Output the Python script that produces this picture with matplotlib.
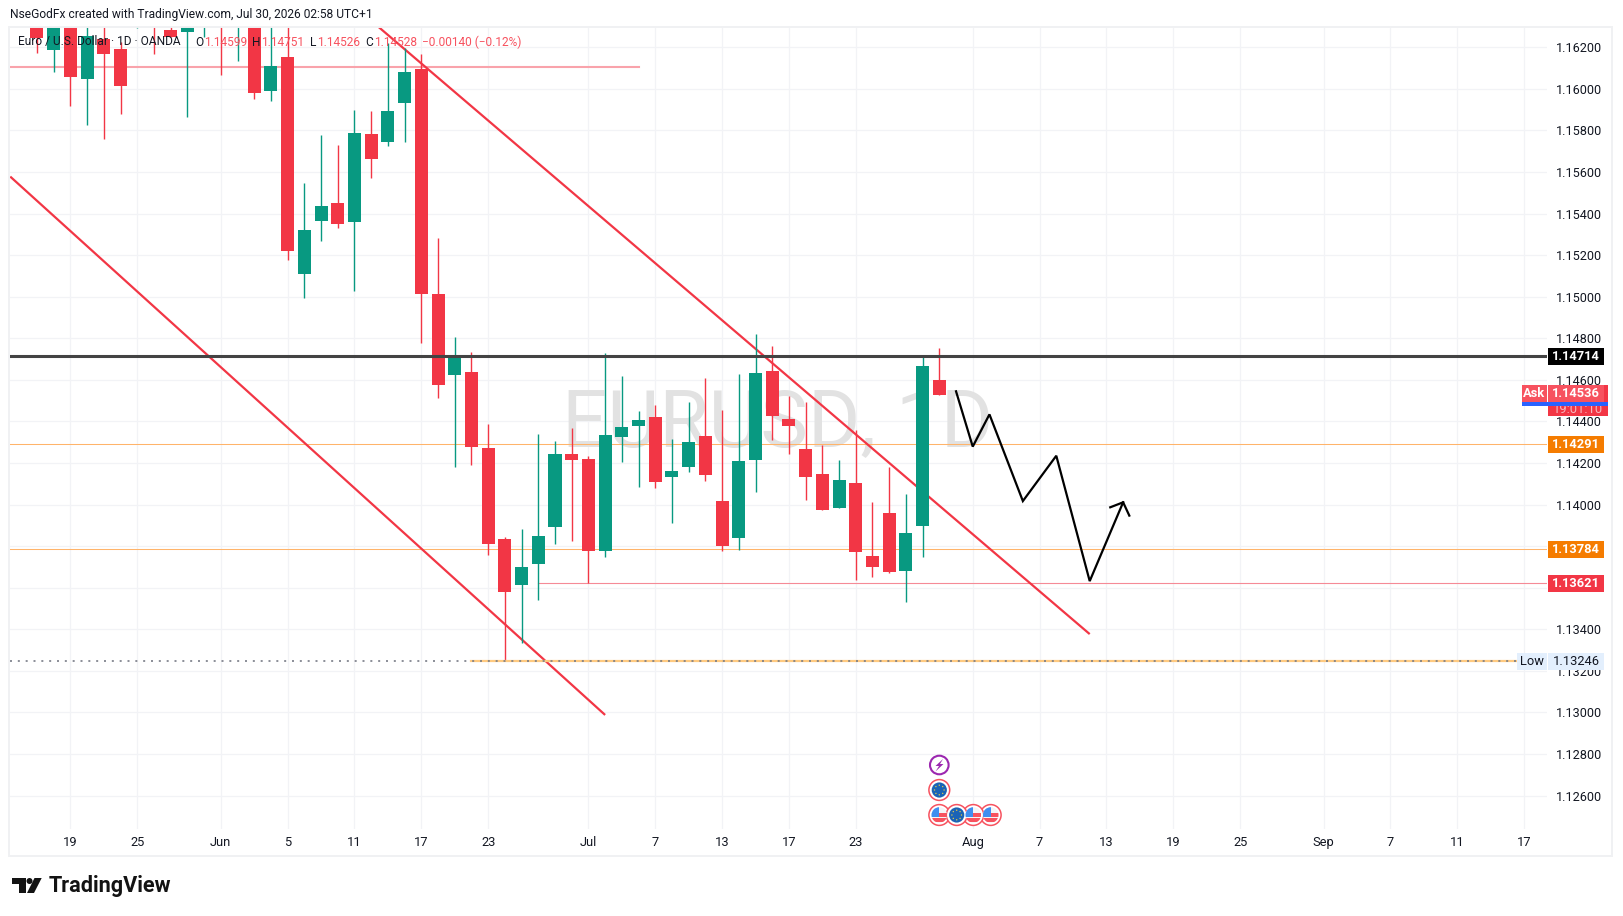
import numpy as np
import pandas as pd
import matplotlib
matplotlib.use("Agg")
import matplotlib.pyplot as plt
from matplotlib.patches import Circle, Rectangle, Polygon
from matplotlib.transforms import IdentityTransform, blended_transform_factory

W, H = 1623, 916

# daily candles, May 15 to Jul 30 2026 (the first ones run off the top of the pane)
opens = [1.16350, 1.16187, 1.16350, 1.16049, 1.16238, 1.16190, 1.16400, 1.16450, 1.16283, 1.16275, 1.16400,
         1.16500, 1.16296, 1.16400, 1.15991, 1.16153, 1.15111, 1.15366, 1.15451, 1.15361, 1.15783,
         1.15746, 1.15934, 1.16096, 1.15013, 1.14625, 1.14638, 1.14272, 1.13835, 1.13615, 1.13716,
         1.13894, 1.14243, 1.14219, 1.13778, 1.14325, 1.14380, 1.14421, 1.14134, 1.14182, 1.14330,
         1.14017, 1.13841, 1.14216, 1.14643, 1.14412, 1.14267, 1.14147, 1.13985, 1.14104, 1.13753,
         1.13959, 1.13682, 1.13899, 1.14599]
highs = [1.16420, 1.16450, 1.16420, 1.16320, 1.16320, 1.16227, 1.16500, 1.16500, 1.16320, 1.16450, 1.16550,
         1.16550, 1.16450, 1.16450, 1.16320, 1.16320, 1.15547, 1.15778, 1.15730, 1.15898, 1.15894,
         1.16219, 1.16195, 1.16168, 1.15283, 1.14806, 1.14733, 1.14388, 1.13844, 1.13883, 1.14340,
         1.14306, 1.14370, 1.14234, 1.14729, 1.14619, 1.14450, 1.14479, 1.14316, 1.14494, 1.14609,
         1.14455, 1.14628, 1.14821, 1.14763, 1.14522, 1.14494, 1.14287, 1.14214, 1.14359, 1.14012,
         1.14181, 1.14051, 1.14708, 1.14751]
lows = [1.16171, 1.16083, 1.15919, 1.15828, 1.15760, 1.15881, 1.16293, 1.16166, 1.16248, 1.15863, 1.16251,
        1.16068, 1.16136, 1.15950, 1.15943, 1.15178, 1.14995, 1.15270, 1.15332, 1.15029, 1.15573,
        1.15727, 1.15746, 1.14779, 1.14514, 1.14182, 1.14192, 1.13759, 1.13249, 1.13336, 1.13543,
        1.13812, 1.13826, 1.13621, 1.13749, 1.14206, 1.14086, 1.14081, 1.13913, 1.14158, 1.14115,
        1.13778, 1.13781, 1.14062, 1.14311, 1.14245, 1.14024, 1.13975, 1.13985, 1.13639, 1.13653,
        1.13672, 1.13533, 1.13749, 1.14526]
closes = [1.16246, 1.16380, 1.16059, 1.16254, 1.16169, 1.16015, 1.16450, 1.16320, 1.16251, 1.16400, 1.16500,
          1.16320, 1.16400, 1.15982, 1.16110, 1.15222, 1.15321, 1.15437, 1.15352, 1.15788, 1.15664,
          1.15894, 1.16081, 1.15015, 1.14577, 1.14710, 1.14279, 1.13812, 1.13581, 1.13700, 1.13849,
          1.14243, 1.14216, 1.13778, 1.14335, 1.14373, 1.14407, 1.14110, 1.14162, 1.14301, 1.14144,
          1.13802, 1.14210, 1.14633, 1.14428, 1.14380, 1.14134, 1.13975, 1.14118, 1.13774, 1.13701,
          1.13677, 1.13863, 1.14667, 1.14528]

price_ticks = [1.162, 1.160, 1.158, 1.156, 1.154, 1.152, 1.150, 1.148, 1.146, 1.144,
               1.142, 1.140, 1.138, 1.136, 1.134, 1.132, 1.130, 1.128, 1.126]
# 1.138 and 1.136 sit fully under the price tags
hidden_ticks = [1.138, 1.136]
tick_dates = ["2026-05-19", "2026-05-25", "2026-06-01", "2026-06-05", "2026-06-11", "2026-06-17", "2026-06-23",
              "2026-07-01", "2026-07-07", "2026-07-13", "2026-07-17", "2026-07-23", "2026-08-03", "2026-08-07",
              "2026-08-13", "2026-08-19", "2026-08-25", "2026-09-01", "2026-09-07", "2026-09-11", "2026-09-17"]
tick_labels = ["19", "25", "Jun", "5", "11", "17", "23", "Jul", "7", "13", "17", "23", "Aug", "7",
               "13", "19", "25", "Sep", "7", "11", "17"]

# drawings, x in bars from May 15, y in price
upper_x, upper_y = [20.44, 63.0], [1.16298, 1.13377]
lower_x, lower_y = [-1.6, 34.0], [1.15578, 1.12988]
path_x = [55, 56, 57, 59, 61, 63, 65]
path_y = [1.14545, 1.14279, 1.14434, 1.14017, 1.14235, 1.13632, 1.14011]
head_x = [64.23, 65, 65.37]
head_y = [1.13987, 1.14011, 1.13947]

level_black = 1.14714
level_top = 1.16107
level_orange = [1.14291, 1.13784]
level_red = 1.13621
level_low = 1.13246
last_ask = 1.14536

UP = "#089981"
DOWN = "#F23645"
INK = "#131722"
GRID = "#F2F3F6"
FONT = ["Roboto", "DejaVu Sans"]
plt.rcParams["font.family"] = FONT

dates = pd.bdate_range("2026-05-15", "2026-09-30")
xs = np.arange(len(closes))
opens, highs, lows, closes = map(np.array, (opens, highs, lows, closes))

fig = plt.figure(figsize=(W / 100, H / 100), dpi=100, facecolor="white")
pane_l, pane_r, pane_t, pane_b = 10, 1547, 27, 829
ax = fig.add_axes([pane_l / W, 1 - pane_b / H, (pane_r - pane_l) / W, (pane_b - pane_t) / H])


def px_y(y):
    return H - y


# frame round the whole chart
fig.add_artist(Rectangle((pane_l - 1, px_y(856)), 1612 - pane_l + 1, 856 - pane_t,
                         transform=IdentityTransform(), fill=False, ec="#F0F1F3", lw=1.4))

bar_step = 16.71
first_bar_px = 36.98
ax.set_xlim((pane_l - first_bar_px) / bar_step, (pane_r - first_bar_px) / bar_step)
ax.set_ylim(1.164276 - pane_b * 4.811e-5, 1.164276 - pane_t * 4.811e-5)
for s in ax.spines.values():
    s.set_visible(False)

tick_pos = [dates.get_loc(pd.Timestamp(d)) for d in tick_dates]
ax.set_xticks(tick_pos, tick_labels)
ax.set_yticks(price_ticks, ["" if p in hidden_ticks else "%.5f" % p for p in price_ticks])
ax.yaxis.tick_right()
ax.tick_params(axis="y", length=0, pad=6.6, labelsize=9.05, labelcolor=INK)
ax.tick_params(axis="x", length=0, pad=5.0, labelsize=9.3, labelcolor=INK)
ax.grid(True, color=GRID, lw=0.9)
ax.set_axisbelow(True)

# watermark
ax.text(0.4995, 0.5045, "EURUSD, 1D", transform=ax.transAxes, ha="center", va="center",
        fontsize=57.5, color="#E2E2E2", zorder=0.8)

# lines drawn behind the candles
ax.plot(upper_x, upper_y, color=DOWN, lw=1.6, zorder=1.5, solid_capstyle="butt")
ax.plot(lower_x, lower_y, color=DOWN, lw=1.6, zorder=1.5, solid_capstyle="butt")
ax.plot([-1.62, 36.0], [level_top] * 2, color="#F9A3AB", lw=1.5, zorder=1.4)
for lev in level_orange:
    ax.axhline(lev, color="#FFB46A", lw=0.75, zorder=1.4)
ax.plot([dates.get_loc(pd.Timestamp("2026-06-26")), 90.4], [level_red] * 2, color="#F58A96", lw=0.8, zorder=1.4)

# candles
colors = np.where(closes >= opens, UP, DOWN)
ax.vlines(xs, lows, highs, colors=colors, lw=1.0, zorder=2)
ax.bar(xs, np.abs(closes - opens), bottom=np.minimum(opens, closes), width=0.78, color=colors, lw=0, zorder=2.1)

# lines over the candles
ax.axhline(level_black, color="#434343", lw=2.2, zorder=3)
ax.plot(path_x, path_y, color="black", lw=1.6, zorder=3.2, solid_joinstyle="miter")
ax.plot(head_x, head_y, color="black", lw=1.6, zorder=3.2, solid_joinstyle="miter")
low_start = dates.get_loc(pd.Timestamp("2026-06-22"))
ax.plot([low_start, 88.6], [level_low] * 2, color="#FFCA80", lw=1.6, zorder=3)
ax.plot([-1.62, 88.6], [level_low] * 2, color="#787B86", lw=1.2, ls=(0, (1.2, 3.5)), zorder=3.1)

price_tf = blended_transform_factory(IdentityTransform(), ax.transData)
tag_h = 17.2 * 4.811e-5


def tag(x0, x1, price, text, bg, fg="white", weight="bold", z=6):
    ax.add_patch(Rectangle((x0, price - tag_h / 2), x1 - x0, tag_h, transform=price_tf, fc=bg, ec="none",
                           clip_on=False, zorder=z))
    ax.text((x0 + x1) / 2, price - 0.00001, text, transform=price_tf, ha="center", va="center", fontsize=9.3,
            color=fg, fontweight=weight, clip_on=False, zorder=z + 0.1)


# countdown box sits under the ask tag
box_h = 31 * 4.811e-5
ax.add_patch(Rectangle((1548, last_ask - 8.6 * 4.811e-5 - box_h + 17.2 * 4.811e-5), 60, box_h, transform=price_tf,
                       fc=DOWN, ec="none", clip_on=False, zorder=5))
ax.text(1578, last_ask - 16 * 4.811e-5, "19:01:10", transform=price_tf, ha="center", va="center", fontsize=9.3,
        color="#F7B8BE", clip_on=False, zorder=5.1)
ax.add_patch(Rectangle((1522, last_ask - 12.4 * 4.811e-5), 86, 4 * 4.811e-5, transform=price_tf, fc="#2962FF",
                       ec="none", clip_on=False, zorder=5.2))
tag(1522, 1547, last_ask, "Ask", "#F7525F", z=6)
tag(1548, 1604, last_ask, "%.5f" % last_ask, "#F7525F", z=6)
tag(1548, 1604, level_black, "%.5f" % level_black, "black")
tag(1548, 1604, level_orange[0], "%.5f" % level_orange[0], "#F57C00")
tag(1548, 1604, level_orange[1], "%.5f" % level_orange[1], "#F57C00")
tag(1548, 1604, level_red, "%.5f" % level_red, DOWN)
tag(1517, 1547, level_low, "Low", "#E3EFFD", fg=INK, weight="normal")
tag(1548, 1604, level_low, "%.5f" % level_low, "#E3EFFD", fg=INK, weight="normal")


def px_text(x, y, s, color=INK, size=9.2, weight="normal", ha="left"):
    fig.text(x / W, 1 - y / H, s, color=color, fontsize=size, fontweight=weight, ha=ha, va="center")


# header and legend
px_text(10, 14.7, "NseGodFx created with TradingView.com, Jul 30, 2026 02:58 UTC+1", size=8.65)
px_text(18, 42, "Euro / U.S. Dollar · 1D · OANDA", size=8.55)
RED_TXT = "#F7525F"
for x, s, c in [(195, "O", INK), (203.6, "1.14599", RED_TXT), (252.5, "H", INK), (261, "1.14751", RED_TXT),
                (310, "L", INK), (317, "1.14526", RED_TXT), (365, "C", INK), (373.6, "1.14528", RED_TXT),
                (422, "−0.00140 (−0.12%)", RED_TXT)]:
    px_text(x, 42, s, color=c, size=8.6)


def event_circle(x, y, ring, fill):
    c = Circle((x, px_y(y)), 9.3, transform=IdentityTransform(), fc=fill, ec=ring, lw=1.5, zorder=5)
    fig.add_artist(c)
    return c


def eu_icon(x, y):
    fig.add_artist(Circle((x, px_y(y)), 10.4, transform=IdentityTransform(), fc="white", ec="#F7525F", lw=1.1, zorder=5))
    fig.add_artist(Circle((x, px_y(y)), 7.6, transform=IdentityTransform(), fc="#1B63B5", ec="none", zorder=5.1))
    for a in np.arange(0, 360, 45):
        fig.add_artist(Circle((x + 4.8 * np.cos(np.radians(a)), px_y(y) + 4.8 * np.sin(np.radians(a))), 0.7,
                              transform=IdentityTransform(), fc="#E3C94B", ec="none", zorder=5.2))


def us_icon(x, y):
    fig.add_artist(Circle((x, px_y(y)), 10.4, transform=IdentityTransform(), fc="white", ec="#F7525F", lw=1.1, zorder=5))
    clip = Circle((x, px_y(y)), 7.8, transform=IdentityTransform())
    parts = [(x - 8, y - 8, 16, 16, "#F4F4F6"), (x - 8, y + 3, 16, 4, "#F7525F"), (x, y - 2, 8, 4, "#F7525F"),
             (x - 8, y - 8, 8, 10, "#3F8EF0")]
    for x0, y0, w, h, col in parts:
        r = Rectangle((x0, px_y(y0 + h)), w, h, transform=IdentityTransform(), fc=col, ec="none", zorder=5.1)
        fig.add_artist(r)
        r.set_clip_path(clip)


# calendar events under the last candle
event_circle(939.3, 765, "#9C27B0", "white")
bolt = [(943, 759), (935.5, 766), (939, 766), (935.5, 771.5), (943.5, 764), (940, 764)]
fig.add_artist(Polygon([(x, px_y(y)) for x, y in bolt], closed=True, transform=IdentityTransform(),
                       fc="#9C27B0", ec="none", zorder=5.2))
eu_icon(939.3, 790)
us_icon(939.3, 815)
us_icon(990.7, 815)
us_icon(973.3, 815)
eu_icon(956.7, 815)

# logo
logo_parts = [[(12, 878), (25.6, 878), (25.6, 893), (19, 893), (19, 884), (12, 884)],
              [(34.5, 878), (41.7, 878), (34, 893), (27, 893)]]
for part in logo_parts:
    fig.add_artist(Polygon([(x, px_y(y)) for x, y in part], closed=True, transform=IdentityTransform(),
                           fc="#131313", ec="none"))
fig.add_artist(Circle((29.5, px_y(881)), 3, transform=IdentityTransform(), fc="#131313", ec="none"))
px_text(49, 886.3, "TradingView", color="#131313", size=15.6, weight="bold")

fig.savefig("out.png", dpi=100, facecolor="white")
